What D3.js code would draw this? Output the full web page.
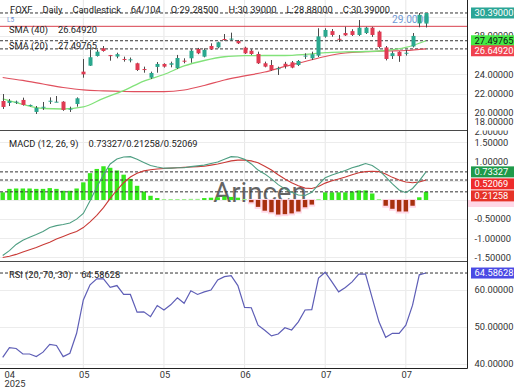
<!DOCTYPE html>
<html>
<head>
<meta charset="utf-8">
<script src="https://cdn.jsdelivr.net/npm/d3@7"></script>
<style>
  html, body { margin: 0; padding: 0; background: #fff; }
  svg { display: block; font-family: Roboto, "Liberation Sans", Arial, sans-serif; }
</style>
</head>
<body>
<div id="chart"></div>
<script>
"use strict";

// daily candles, oldest first
var opens  = [21.22, 21.02, 21.10, 21.33, 20.75, 20.08, 20.60, 21.20, 21.12, 21.15, 20.35, 20.91,
              24.28, 24.90, 25.91, 26.71, 26.00, 25.85, 25.60, 25.50, 25.15, 24.55, 23.65, 24.77,
              25.08, 25.00, 24.66, 25.42, 25.67, 26.64, 25.84, 26.95, 26.81, 27.68, 27.70, 27.47,
              26.78, 26.46, 26.12, 25.15, 24.97, 24.62, 25.10, 25.25, 24.97, 25.90, 25.67, 25.95,
              27.92, 28.50, 27.70, 28.30, 28.50, 28.10, 28.30, 28.86, 28.45, 26.80, 25.90, 26.35,
              26.20, 26.90, 29.30, 29.285];
var highs  = [21.95, 21.43, 21.26, 21.57, 20.85, 20.70, 21.12, 21.60, 21.74, 21.20, 20.63, 21.60,
              25.60, 26.60, 26.54, 26.95, 26.02, 26.25, 25.84, 25.75, 25.21, 24.80, 24.28, 25.28,
              25.15, 25.32, 26.02, 25.67, 26.61, 26.75, 26.71, 27.23, 27.40, 28.20, 28.34, 27.58,
              26.88, 26.61, 26.36, 25.32, 25.49, 24.80, 25.30, 25.39, 25.49, 26.19, 26.36, 28.80,
              28.80, 28.72, 28.10, 28.96, 28.70, 29.66, 28.95, 28.95, 28.55, 26.95, 26.40, 26.40,
              26.55, 28.30, 30.39, 30.39];
var lows   = [20.39, 20.70, 20.91, 20.74, 20.65, 19.87, 20.29, 20.91, 21.10, 20.20, 20.08, 20.63,
              23.65, 24.87, 25.85, 26.36, 25.42, 25.67, 25.32, 25.25, 24.35, 24.17, 23.52, 24.17,
              24.70, 24.73, 24.56, 25.15, 25.21, 26.10, 25.77, 26.54, 26.71, 27.50, 27.50, 27.16,
              26.12, 26.02, 25.08, 24.73, 24.38, 23.93, 24.60, 24.63, 24.87, 25.60, 25.49, 25.80,
              27.82, 27.92, 27.37, 28.00, 28.00, 28.00, 28.20, 27.90, 26.70, 25.45, 25.60, 25.30,
              25.95, 26.80, 28.90, 28.88];
var closes = [20.60, 21.22, 21.15, 20.81, 20.81, 20.50, 20.62, 21.25, 21.15, 20.29, 20.42, 21.50,
              24.00, 25.78, 26.36, 26.43, 25.95, 26.10, 25.55, 25.56, 24.45, 24.48, 24.14, 25.08,
              24.80, 25.15, 25.70, 25.38, 26.46, 26.19, 26.54, 26.61, 27.34, 27.64, 27.72, 27.23,
              26.19, 26.12, 25.15, 24.80, 24.45, 24.64, 24.85, 24.70, 25.39, 25.95, 26.09, 27.95,
              28.62, 28.10, 27.68, 28.06, 28.10, 28.86, 28.86, 28.10, 26.85, 25.60, 26.20, 25.90,
              26.25, 28.00, 30.20, 30.39];

// moving averages, read every third bar
var smaIdx = [0, 3, 6, 9, 12, 15, 18, 21, 24, 27, 30, 33, 36, 39, 42, 45, 48, 51, 54, 57, 60, 63];
var sma20  = [21.43, 20.86, 20.44, 20.39, 20.60, 21.50, 22.30, 23.30, 23.98, 24.87, 25.44,
              25.83, 25.94, 25.96, 25.96, 26.07, 26.26, 26.33, 26.38, 26.48, 26.80, 27.49765];
var sma40  = [23.67, 23.36, 22.99, 22.63, 22.37, 22.27, 22.21, 22.19, 22.19, 22.37, 22.84,
              23.41, 23.83, 24.24, 24.82, 25.34, 25.86, 26.22, 26.36, 26.43, 26.48, 26.6492];

var macdLine   = [-1.45, -1.32, -1.16, -1.05, -0.97, -0.90, -0.82, -0.72, -0.67, -0.64, -0.60, -0.50,
                  -0.35, -0.02, 0.33, 0.66, 0.94, 1.07, 1.12, 1.13, 1.06, 0.98, 0.90, 0.86,
                  0.83, 0.83, 0.84, 0.84, 0.87, 0.89, 0.91, 0.95, 0.99, 1.06, 1.13, 1.12,
                  1.06, 0.94, 0.78, 0.68, 0.55, 0.40, 0.29, 0.20, 0.13, 0.12, 0.20, 0.40,
                  0.58, 0.65, 0.71, 0.77, 0.84, 0.89, 0.95, 0.90, 0.78, 0.60, 0.42, 0.26,
                  0.19, 0.30, 0.50, 0.73327];
var signalLine = [-1.50, -1.47, -1.42, -1.36, -1.30, -1.24, -1.17, -1.10, -1.02, -0.95, -0.88, -0.82,
                  -0.72, -0.57, -0.40, -0.20, 0.04, 0.26, 0.45, 0.60, 0.70, 0.76, 0.79, 0.81,
                  0.82, 0.83, 0.84, 0.85, 0.86, 0.87, 0.88, 0.91, 0.94, 0.98, 1.02, 1.04,
                  1.04, 1.02, 0.97, 0.88, 0.78, 0.66, 0.55, 0.45, 0.37, 0.31, 0.30, 0.35,
                  0.44, 0.50, 0.55, 0.60, 0.66, 0.71, 0.74, 0.75, 0.74, 0.68, 0.59, 0.52,
                  0.47, 0.45, 0.47, 0.52069];
var histogram  = [0.20, 0.29, 0.30, 0.30, 0.30, 0.29, 0.29, 0.31, 0.29, 0.24, 0.24, 0.30,
                  0.46, 0.70, 0.81, 0.88, 0.84, 0.77, 0.66, 0.55, 0.37, 0.22, 0.11, 0.05,
                  0.01, 0.02, 0.01, 0.02, 0.03, 0.03, 0.05, 0.06, 0.07, 0.09, 0.08, 0.06,
                  0.01, -0.06, -0.18, -0.28, -0.32, -0.38, -0.37, -0.35, -0.30, -0.19, -0.12, 0.02,
                  0.20, 0.20, 0.20, 0.20, 0.22, 0.25, 0.25, 0.17, 0.00, -0.15, -0.23, -0.30,
                  -0.30, -0.15, 0.07, 0.21258];

var rsi = [41.8, 44.4, 44.2, 42.7, 42.7, 42.0, 43.2, 45.3, 45.0, 42.0, 42.9, 48.3,
           57.3, 61.4, 63.0, 63.0, 60.7, 61.2, 58.8, 58.8, 54.0, 54.1, 52.8, 55.8,
           54.6, 56.0, 57.9, 56.4, 59.8, 58.8, 59.5, 60.0, 62.7, 63.6, 63.9, 61.2,
           55.3, 55.2, 50.5, 49.1, 47.6, 48.1, 49.8, 49.2, 51.4, 54.6, 54.7, 63.2,
           64.8, 62.2, 59.5, 60.7, 62.2, 64.3, 64.3, 57.8, 51.4, 47.2, 48.3, 48.3,
           50.5, 55.9, 64.1, 64.58628];

var monthTickIdx    = [0, 12, 24, 36, 48, 60];
var monthTickLabels = ["04", "05", "05", "06", "07", "07"];
var priceTicks = [28, 24, 22, 20, 18];
var priceGrid  = [30, 28, 26, 24, 22, 20];
var macdTicks  = [2, 1.5, 1, -0.5, -1, -1.5];
var macdGrid   = [1.5, 1, 0.5, 0, -0.5, -1, -1.5];
var rsiTicks   = [60, 50, 40];

var resistance = 29.0;

(function () {
  var W = 520, H = 390, axisX = 467;
  var fontSize = 9.3;

  var svg = d3.select("#chart").append("svg").attr("width", W).attr("height", H);
  svg.append("rect").attr("width", W).attr("height", H).attr("fill", "#fff");

  var x = d3.scaleLinear().domain([0, 63]).range([2.7, 426]);
  var yMain = d3.scaleLinear().domain([18.2, 31.43]).range([130, 3]);
  var yMacd = d3.scaleLinear().domain([-1.54, 1.8]).range([259, 131]);
  var yRsi = d3.scaleLinear().domain([40, 60]).range([364, 290]);

  var defs = svg.append("defs");
  function clip(id, y0, y1) {
    defs.append("clipPath").attr("id", id).append("rect")
      .attr("x", 0).attr("y", y0).attr("width", axisX).attr("height", y1 - y0);
    return "url(#" + id + ")";
  }
  var mainClip = clip("clip-main", 0, 130);
  var macdClip = clip("clip-macd", 130, 261);
  var rsiClip = clip("clip-rsi", 261, 368);

  // vertical grid through all panels
  svg.append("g").selectAll("line").data(monthTickIdx.slice(1)).join("line")
    .attr("x1", function (d) { return x(d); }).attr("x2", function (d) { return x(d); })
    .attr("y1", 0).attr("y2", 368)
    .attr("stroke", "#e6e6e6");

  function hGrid(scale, values, clipUrl) {
    svg.append("g").attr("clip-path", clipUrl).selectAll("line").data(values).join("line")
      .attr("x1", 0).attr("x2", axisX)
      .attr("y1", function (d) { return Math.round(scale(d)) + 0.5; })
      .attr("y2", function (d) { return Math.round(scale(d)) + 0.5; })
      .attr("stroke", "#ececec");
  }
  hGrid(yMain, priceGrid, mainClip);
  hGrid(yMacd, macdGrid, macdClip);
  hGrid(yRsi, rsiTicks, rsiClip);

  function dashed(g, yPos) {
    g.append("line")
      .attr("x1", 0).attr("x2", axisX)
      .attr("y1", yPos).attr("y2", yPos)
      .attr("stroke", "#333").attr("stroke-width", 1)
      .attr("stroke-dasharray", "3,2");
  }

  // label made of parts separated by a fixed gap
  function partsLabel(g, parts, x0, baseline, size) {
    var cx = x0;
    parts.forEach(function (p) {
      var t = g.append("text").attr("x", cx).attr("y", baseline)
        .attr("font-size", size || fontSize).attr("fill", "#222").text(p);
      cx += t.node().getComputedTextLength() + 10;
    });
  }

  /* ---------- main price panel ---------- */
  var main = svg.append("g").attr("clip-path", mainClip);

  main.append("line")
    .attr("x1", 0).attr("x2", axisX)
    .attr("y1", yMain(resistance)).attr("y2", yMain(resistance))
    .attr("stroke", "#d8404e").attr("stroke-width", 1);

  dashed(main, yMain(closes[63]));
  dashed(main, yMain(sma20[sma20.length - 1]));
  dashed(main, yMain(sma40[sma40.length - 1]));

  var smaLine = d3.line()
    .x(function (d) { return x(d[0]); })
    .y(function (d) { return yMain(d[1]); })
    .curve(d3.curveMonotoneX);

  main.append("path")
    .attr("d", smaLine(smaIdx.map(function (i, k) { return [i, sma40[k]]; })))
    .attr("fill", "none").attr("stroke", "#e0505e").attr("stroke-width", 1.2);
  main.append("path")
    .attr("d", smaLine(smaIdx.map(function (i, k) { return [i, sma20[k]]; })))
    .attr("fill", "none").attr("stroke", "#82e27a").attr("stroke-width", 1.3);

  partsLabel(main, ["FOXF", "Daily", "Candlestick", "64/104", "O:29.28500", "H:30.39000",
    "L:28.88000", "C:30.39000"], 10, 13.2);
  main.append("text").attr("x", 7).attr("y", 21.5).attr("font-size", 6.5)
    .attr("fill", "#6c8fd2").text("L5");
  partsLabel(main, ["SMA (40)", "26.64920"], 9, 32.6);
  partsLabel(main, ["SMA (20)", "27.49765"], 9, 49.3);

  main.append("text").attr("x", 392).attr("y", 23.3).attr("font-size", 10.2)
    .attr("fill", "#7099d4").text("29.0000");

  var candles = opens.map(function (o, i) {
    return { i: i, o: o, h: highs[i], l: lows[i], c: closes[i] };
  });
  var upColor = "#2aa88e", downColor = "#e03a52";

  main.append("g").selectAll("line").data(candles).join("line")
    .attr("x1", function (d) { return Math.round(x(d.i)) + 0.5; })
    .attr("x2", function (d) { return Math.round(x(d.i)) + 0.5; })
    .attr("y1", function (d) { return yMain(d.h); })
    .attr("y2", function (d) { return yMain(d.l); })
    .attr("stroke", "#4a4a4a").attr("stroke-width", 1);

  main.append("g").selectAll("rect").data(candles).join("rect")
    .attr("x", function (d) { return Math.round(x(d.i)) - 1.5; })
    .attr("width", 4)
    .attr("y", function (d) { return yMain(Math.max(d.o, d.c)); })
    .attr("height", function (d) { return Math.max(1, Math.abs(yMain(d.o) - yMain(d.c))); })
    .attr("fill", function (d) { return d.c >= d.o ? upColor : downColor; });

  /* ---------- MACD panel ---------- */
  var macd = svg.append("g").attr("clip-path", macdClip);

  macd.append("text").attr("x", 260).attr("y", 201.5)
    .attr("text-anchor", "middle").attr("font-size", 27.5)
    .attr("fill", "#3e3e3e").attr("opacity", 0.8).text("Arincen");

  var zero = yMacd(0);
  var negBars = histogram.map(function (v, i) { return { i: i, v: v }; })
    .filter(function (d) { return d.v < 0; });
  var posBars = histogram.map(function (v, i) { return { i: i, v: v }; })
    .filter(function (d) { return d.v >= 0; });

  macd.append("g").selectAll("rect").data(negBars).join("rect")
    .attr("x", function (d) { return x(d.i) - 3.4; })
    .attr("width", 6.8)
    .attr("y", zero - 1)
    .attr("height", function (d) { return yMacd(d.v) - zero + 3; })
    .attr("fill", "#ffd7e6");
  macd.append("g").selectAll("rect").data(negBars).join("rect")
    .attr("x", function (d) { return x(d.i) - 2.2; })
    .attr("width", 4.4)
    .attr("y", zero)
    .attr("height", function (d) { return yMacd(d.v) - zero; })
    .attr("fill", "#a8300e");
  macd.append("g").selectAll("rect").data(posBars).join("rect")
    .attr("x", function (d) { return x(d.i) - 2.2; })
    .attr("width", 4.4)
    .attr("y", function (d) { return Math.min(yMacd(d.v), zero - 1); })
    .attr("height", function (d) { return Math.max(1, zero - yMacd(d.v)); })
    .attr("fill", function (d) { return d.v < 0.04 ? "#9cf08c" : "#36e81c"; });

  dashed(macd, yMacd(macdLine[63]));
  dashed(macd, yMacd(signalLine[63]));
  dashed(macd, yMacd(histogram[63]));

  var macdPath = d3.line()
    .x(function (d, i) { return x(i); })
    .y(function (d) { return yMacd(d); });
  macd.append("path").attr("d", macdPath(signalLine))
    .attr("fill", "none").attr("stroke", "#c93a36").attr("stroke-width", 1.1);
  macd.append("path").attr("d", macdPath(macdLine))
    .attr("fill", "none").attr("stroke", "#4e9e82").attr("stroke-width", 1.1);

  partsLabel(macd, ["MACD (12, 26, 9)", "0.73327/0.21258/0.52069"], 9, 146.6);

  /* ---------- RSI panel ---------- */
  var rsiG = svg.append("g").attr("clip-path", rsiClip);
  dashed(rsiG, yRsi(rsi[63]));
  rsiG.append("path")
    .attr("d", d3.line()
      .x(function (d, i) { return x(i); })
      .y(function (d) { return yRsi(d); })(rsi))
    .attr("fill", "none").attr("stroke", "#5e5eb6").attr("stroke-width", 1.2);
  partsLabel(rsiG, ["RSI (20, 70, 30)", "64.58628"], 9, 277.6);

  /* ---------- right axis ---------- */
  var axis = svg.append("g").attr("font-size", fontSize).attr("fill", "#333");

  priceTicks.forEach(function (v) {
    axis.append("text").attr("x", 474.5).attr("y", Math.min(yMain(v), 121.5))
      .attr("dy", "0.35em").text(v.toFixed(5));
  });
  var macdAxis = axis.append("g").attr("clip-path", "url(#clip-axis-macd)");
  defs.append("clipPath").attr("id", "clip-axis-macd").append("rect")
    .attr("x", axisX).attr("y", 130.5).attr("width", W - axisX).attr("height", 140);
  macdTicks.forEach(function (v) {
    macdAxis.append("text").attr("x", 474.5).attr("y", Math.max(yMacd(v), 132))
      .attr("dy", "0.35em").text(v.toFixed(5));
  });
  rsiTicks.forEach(function (v) {
    axis.append("text").attr("x", 474.5).attr("y", yRsi(v))
      .attr("dy", "0.35em").text(v.toFixed(5));
  });

  // pink zero marker under the histogram box
  svg.append("rect").attr("x", axisX + 1).attr("y", zero).attr("width", 46).attr("height", 7)
    .attr("fill", "#ffd7e6");

  // last-value boxes, pushed apart when they collide
  function valueBoxes(items, scale, gap) {
    var prev = -Infinity;
    items.forEach(function (b) {
      var cy = Math.max(scale(b.v), prev + gap);
      prev = cy;
      svg.append("rect").attr("x", 471).attr("y", cy - 5.5).attr("width", 43).attr("height", 11)
        .attr("fill", b.bg);
      svg.append("text").attr("x", 474.5).attr("y", cy).attr("dy", "0.35em")
        .attr("font-size", fontSize).attr("fill", b.fg).text(b.text);
    });
  }
  valueBoxes([
    { v: closes[63], text: "30.39000", bg: "#2aa596", fg: "#fff" },
    { v: sma20[sma20.length - 1], text: "27.49765", bg: "#45ea45", fg: "#111" },
    { v: sma40[sma40.length - 1], text: "26.64920", bg: "#f0424f", fg: "#fff" }
  ], yMain, 10);
  valueBoxes([
    { v: macdLine[63], text: "0.73327", bg: "#1f9a4a", fg: "#fff" },
    { v: signalLine[63], text: "0.52069", bg: "#ee2b2b", fg: "#fff" },
    { v: histogram[63], text: "0.21258", bg: "#e63328", fg: "#fff" }
  ], yMacd, 12);
  valueBoxes([
    { v: rsi[63], text: "64.58628", bg: "#4a4ae4", fg: "#fff" }
  ], yRsi, 12);

  /* ---------- frame ---------- */
  [130.5, 261.5].forEach(function (yy) {
    svg.append("line").attr("x1", 0).attr("x2", axisX).attr("y1", yy).attr("y2", yy)
      .attr("stroke", "#4a4a4a");
  });
  svg.append("line").attr("x1", 0).attr("x2", axisX + 0.5).attr("y1", 368.5).attr("y2", 368.5)
    .attr("stroke", "#222");
  svg.append("line").attr("x1", axisX + 0.5).attr("x2", axisX + 0.5).attr("y1", 0).attr("y2", 368.5)
    .attr("stroke", "#222");

  // bottom month labels
  var xl = svg.append("g").attr("font-size", fontSize).attr("fill", "#333");
  monthTickIdx.forEach(function (i, k) {
    var first = k === 0;
    xl.append("text")
      .attr("x", first ? 4.5 : x(i) + 1)
      .attr("y", 377.6)
      .attr("text-anchor", first ? "start" : "middle")
      .text(monthTickLabels[k]);
  });
  xl.append("text").attr("x", 4.5).attr("y", 386.6).text("2025");
})();
</script>
</body>
</html>
